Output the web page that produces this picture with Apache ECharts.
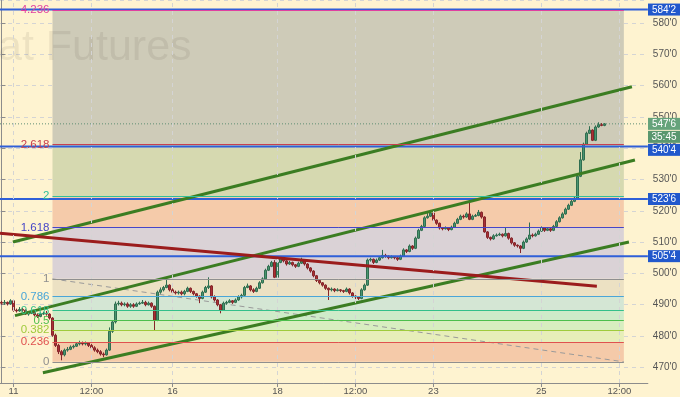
<!DOCTYPE html>
<html><head><meta charset="utf-8">
<script src="https://cdn.jsdelivr.net/npm/echarts@6/dist/echarts.min.js"></script>
<style>html,body{margin:0;padding:0;background:#fef3d0}#c{width:680px;height:397px}</style>
</head><body><div id="c"></div><script>
// ---------- DATA ----------
const firstOpen = 490.75;
const closes = [
490.5,490.75,490.25,491.25,488.25,488.0,488.5,488.25,487.0,487.25,
487.75,486.75,486.25,487.0,487.25,487.0,485.75,480.25,477.0,475.0,
474.0,475.5,475.75,476.5,476.75,477.5,477.75,477.5,477.75,477.0,
476.25,475.5,475.0,474.25,474.0,475.5,481.5,484.5,490.25,490.5,
490.0,490.25,489.5,490.0,489.5,490.25,490.5,490.75,490.0,490.5,
489.5,485.0,494.0,494.75,495.5,496.25,494.75,494.0,493.75,494.0,
493.5,494.25,495.25,494.25,493.5,492.75,492.0,494.0,495.5,496.0,
492.5,491.5,490.0,488.25,490.5,490.75,491.25,490.75,491.5,492.5,
493.0,495.5,496.0,494.75,494.25,495.25,497.0,498.25,501.0,502.25,
503.5,498.75,503.5,505.0,504.0,503.0,503.5,502.75,502.25,503.25,
504.0,503.0,501.75,500.75,499.25,497.75,497.0,496.25,495.25,494.75,
495.0,494.5,494.75,494.5,494.25,495.0,493.75,492.75,492.5,492.0,
494.75,496.25,504.25,504.5,503.5,504.25,505.0,505.75,505.5,505.0,
505.25,505.0,504.5,505.5,507.5,507.0,508.75,508.0,511.25,513.75,
515.0,517.75,518.25,519.25,517.0,516.0,514.5,514.25,514.5,514.0,
514.75,516.0,517.25,518.25,518.0,519.0,517.25,518.25,518.5,519.5,
518.0,513.25,511.5,511.0,512.0,512.25,512.5,512.0,512.75,511.25,
509.75,509.0,508.75,508.0,510.0,511.0,512.25,512.0,512.5,513.5,
514.5,513.75,514.25,513.75,515.0,516.5,517.75,519.0,520.5,521.75,
523.0,524.0,531.0,536.25,541.25,544.75,545.75,542.5,546.75,547.5,
547.25,547.75];
const highs = [
491.25,491.5,491.0,491.75,491.5,488.75,489.25,489.0,488.5,487.75,
488.25,488.0,487.25,487.5,487.75,488.0,487.25,486.0,480.75,477.5,
475.5,476.0,476.5,477.0,477.25,478.0,478.5,478.25,478.25,478.0,
477.5,476.75,476.0,475.5,474.75,476.0,482.75,485.0,491.0,491.25,
491.0,490.75,490.75,490.5,490.5,490.75,491.0,491.5,491.25,491.0,
490.75,489.75,494.5,495.5,496.0,498.5,496.5,495.25,494.5,494.5,
494.5,494.75,495.75,495.5,494.5,493.75,493.0,494.5,496.0,498.75,
496.25,493.0,491.75,490.25,491.0,491.25,491.75,491.5,492.0,493.0,
493.5,496.0,496.75,496.25,495.25,495.75,497.5,498.75,501.5,502.75,
504.0,504.25,504.0,505.5,505.25,504.25,504.0,503.75,503.0,503.75,
505.0,504.25,503.25,502.0,501.0,499.5,498.0,497.25,496.5,495.5,
495.5,495.25,495.25,495.0,494.75,495.5,495.25,494.0,493.0,492.75,
495.25,496.75,504.75,505.0,504.75,504.75,505.5,507.5,506.25,505.75,
505.75,505.5,505.25,506.0,508.0,507.75,509.25,509.0,511.75,514.25,
515.5,518.25,519.25,520.25,519.5,517.25,516.25,514.75,515.0,514.75,
515.25,516.5,517.75,518.75,518.75,519.5,522.75,518.75,519.0,520.25,
519.75,518.25,513.5,511.75,512.5,512.75,513.0,512.75,514.75,513.0,
511.5,510.0,509.25,509.0,510.5,511.5,516.25,512.75,513.0,514.0,
515.0,514.75,514.75,514.5,515.5,517.0,518.25,519.5,521.0,522.25,
523.5,524.5,531.5,538.75,541.75,545.25,547.0,546.0,547.25,548.25,
548.0,548.0];
const lows = [
490.0,490.0,489.75,490.0,487.75,487.5,487.75,487.75,486.75,486.5,
487.0,486.25,485.75,486.0,486.75,486.5,485.25,479.75,476.5,474.25,
472.25,473.5,475.0,475.5,476.0,476.5,477.0,477.0,477.0,476.5,
475.75,475.0,474.5,473.75,473.25,473.75,475.25,481.0,484.0,489.75,
489.5,489.5,489.0,489.0,489.0,489.25,490.0,490.25,489.5,489.75,
489.0,481.75,484.75,493.5,494.25,495.25,494.25,493.5,493.25,493.25,
493.0,493.0,494.0,493.75,493.0,492.25,490.5,491.75,493.75,495.0,
492.0,491.0,489.5,487.25,488.0,490.0,490.5,490.25,490.5,491.25,
492.0,492.75,495.25,494.25,493.75,494.0,495.0,496.75,498.0,500.75,
502.0,498.5,498.5,503.25,503.5,502.5,502.75,502.25,501.75,502.0,
503.0,502.5,501.25,500.25,498.75,497.25,496.5,495.75,494.75,491.5,
494.25,494.0,494.25,494.0,493.75,494.0,493.25,492.25,491.75,491.5,
491.75,494.5,496.0,503.75,503.0,503.25,504.0,504.75,505.0,504.5,
504.75,504.5,504.0,504.25,505.25,506.5,506.75,507.5,507.75,511.0,
513.5,514.75,517.5,518.0,516.75,515.5,514.0,513.75,514.0,513.5,
513.75,514.5,515.75,517.0,517.5,517.75,517.0,517.0,518.0,518.25,
517.5,513.0,511.0,510.5,510.75,511.75,512.0,511.5,511.75,510.75,
509.25,508.5,508.25,506.5,507.75,509.75,510.75,511.5,511.75,512.25,
513.25,513.25,513.5,513.25,513.5,514.75,516.25,517.5,518.75,520.25,
521.5,522.75,523.75,530.75,536.0,541.0,544.5,542.25,542.25,546.5,
547.0,547.0];

const barSlots = 216;                       // bar slots on the time axis (incl. empty future space)
const xTickIndex  = [4, 30, 57, 92, 118, 144, 180, 206];
const xTickLabels = ['11', '12:00', '16', '18', '12:00', '23', '25', '12:00'];

const fibLevels = [0, 0.236, 0.382, 0.5, 0.618, 0.786, 1, 1.618, 2, 2.618, 4.236];
const fibLabels = ['0', '0.236', '0.382', '0.5', '0.618', '0.786', '1', '1.618', '2', '2.618', '4.236'];
const fibAnchor = [471.75, 498.25];        // price at level 0 and level 1
const fibSpan   = [17, 207.5];             // bar index span
const hLines      = [584.25, 540.5, 523.75, 505.5];
const hLineLabels = ["584'2", "540'4", "523'6", "505'4"];
const lastPrice = 547.75, lastPriceLabel = "547'6", countdown = '35:45';
const channelUpper = [[3.8, 510.0], [210.2, 559.6]];
const channelMid   = [[4.5, 486.5], [211.2, 536.2]];
const channelLower = [[13.8, 468.3], [209.2, 510.0]];
const redTrend     = [[-0.5, 512.8], [198.5, 495.9]];
const dashedTrend  = [[17, 498.25], [207.5, 471.75]];
const watermark = 'at Futures';

// ---------- STYLE ----------
const fibLineColors = ['#8f8f8f','#e0514f','#9fcb3c','#4cbf4c','#35c08a','#4aa6d8','#8f8f8f','#4646c8','#2fbf9c','#c8404e','#e040a0'];
const fibBandColors = ['#f5caa9','#e7eeb9','#d8eec0','#cfebc9','#d4e6d4','#ece1c3','#dad2d6','#f5cbaa','#d6d9b0','#cecbb8'];
const FONT = "'Liberation Sans', Arial, sans-serif";

const fmt = v => { const w = Math.floor(v + 1e-9); return w + "'" + Math.round((v - w) * 8); };
const fibPrice = l => fibAnchor[0] + l * (fibAnchor[1] - fibAnchor[0]);
const categories = Array.from({length: barSlots}, (_, i) => String(i));
const candles = closes.map((c, i) => [i === 0 ? firstOpen : closes[i - 1], c, lows[i], highs[i]]);
const XMIN = -0.5, XMAX = barSlots - 0.5;
const isTick = i => xTickIndex.indexOf(i) >= 0;

const lineSeries = (data, color, width, type, z) => ({
  type: 'line', xAxisIndex: 1, yAxisIndex: 0, data, symbol: 'none', silent: true, z,
  lineStyle: {color, width, type: type || 'solid'}, animation: false
});

const series = [
  // fib bands
  { type: 'line', xAxisIndex: 1, yAxisIndex: 0, data: [], z: -1, silent: true, symbol: 'none',
    markArea: { silent: true, data: fibBandColors.map((col, k) => [
      {coord: [fibSpan[0], fibPrice(fibLevels[k])], itemStyle: {color: col, opacity: 1}},
      {coord: [fibSpan[1], fibPrice(fibLevels[k + 1])]}]) } },
  // vertical grid lines
  { type: 'line', xAxisIndex: 1, yAxisIndex: 0, data: [], z: 0, silent: true, symbol: 'none',
    markLine: { silent: true, symbol: 'none', label: {show: false},
      lineStyle: {color: '#d4d4d4', type: [4, 4], width: 1},
      data: xTickIndex.map(i => ({xAxis: i})) } },
  // fib lines
  { type: 'line', xAxisIndex: 1, yAxisIndex: 0, data: [], z: 1, silent: true, symbol: 'none',
    markLine: { silent: true, symbol: 'none',
      data: fibLevels.map((l, k) => [
        {coord: [fibSpan[0], fibPrice(l)], lineStyle: {color: fibLineColors[k], width: 1, type: 'solid'},
         label: {show: true, position: 'start', distance: 3, formatter: fibLabels[k], color: fibLineColors[k], fontSize: 11.5, fontFamily: FONT}},
        {coord: [fibSpan[1], fibPrice(l)]}]) } },
  lineSeries(dashedTrend, '#9a9a9a', 1, [5, 4], 1),
  // candles
  { type: 'candlestick', xAxisIndex: 0, yAxisIndex: 0, data: candles, barWidth: 2, z: 2,
    itemStyle: {color: '#4a9570', color0: '#aa2f34', borderColor: '#2f6e50', borderColor0: '#85252a', borderWidth: 1} },
  // horizontal blue lines and last price line
  ...hLines.map(v => lineSeries([[XMIN, v], [XMAX, v]], '#2f5fd8', 2, 'solid', 3)),
  lineSeries([[XMIN, lastPrice], [XMAX, lastPrice]], '#5f8f75', 1, [1, 2], 3),
  // drawings
  lineSeries(channelUpper, '#3b7d22', 3, 'solid', 4),
  lineSeries(channelMid, '#3b7d22', 3, 'solid', 4),
  lineSeries(channelLower, '#3b7d22', 3, 'solid', 4),
  lineSeries(redTrend, '#9b1c1c', 3, 'solid', 4)
];

const option = {
  backgroundColor: '#fef3d0',
  animation: false,
  grid: {left: 0, right: 32, top: 0, bottom: 14, containLabel: false},
  xAxis: [
    { type: 'category', data: categories, boundaryGap: true,
      axisLine: {show: true, lineStyle: {color: '#8c8c8c'}},
      axisTick: {show: true, alignWithLabel: true, interval: i => isTick(i), length: 4, lineStyle: {color: '#8c8c8c'}},
      axisLabel: {interval: i => isTick(i), formatter: (v, i) => xTickLabels[xTickIndex.indexOf(Number(v))] || '',
        color: '#555', fontSize: 9.5, fontFamily: FONT, margin: 3},
      splitLine: {show: false} },
    { type: 'value', min: XMIN, max: XMAX, show: false }
  ],
  yAxis: [{ type: 'value', position: 'right', min: 465, max: 587.3, splitNumber: 12,
    axisLine: {show: true, lineStyle: {color: '#8c8c8c'}},
    axisTick: {show: true, length: 4, lineStyle: {color: '#8c8c8c'}},
    axisLabel: {color: '#555', fontSize: 10, fontFamily: FONT, margin: 5, showMinLabel: false, showMaxLabel: false, formatter: fmt},
    splitLine: {show: true, lineStyle: {color: '#d4d4d4', type: [4, 4]}} }],
  series
};

const chart = echarts.init(document.getElementById('c'));
chart.setOption(option);

// right-hand price labels, positioned via the y scale
const pxY = v => chart.convertToPixel({yAxisIndex: 0}, v);
const H = 12;
const yLast = pxY(lastPrice);
let boxes = [
  {c: yLast, text: lastPriceLabel, fill: '#66a37b'},
  {c: yLast + H + 1, text: countdown, fill: '#5a976f'},
  ...hLines.map((v, k) => ({c: pxY(v), text: hLineLabels[k], fill: '#2158cc'}))
].sort((a, b) => a.c - b.c);
let prevBottom = -1e9;
const gfx = [];
boxes.forEach(b => {
  let top = b.c - H / 2;
  if (top < prevBottom + 1) top = prevBottom + 1;
  prevBottom = top + H;
  gfx.push({type: 'rect', z: 100, shape: {x: 648, y: top, width: 32, height: H}, style: {fill: b.fill}});
  gfx.push({type: 'text', z: 101, style: {text: b.text, x: 664, y: top + H / 2 + 0.5, fill: '#fff',
    font: '10px ' + FONT, align: 'center', verticalAlign: 'middle'}});
});
gfx.push({type: 'text', z: 1, silent: true, style: {text: watermark, x: -2, y: 48, fill: 'rgba(70,60,40,0.09)',
  font: '43px ' + FONT, align: 'left', verticalAlign: 'middle'}});
chart.setOption({graphic: gfx});
</script></body></html>
